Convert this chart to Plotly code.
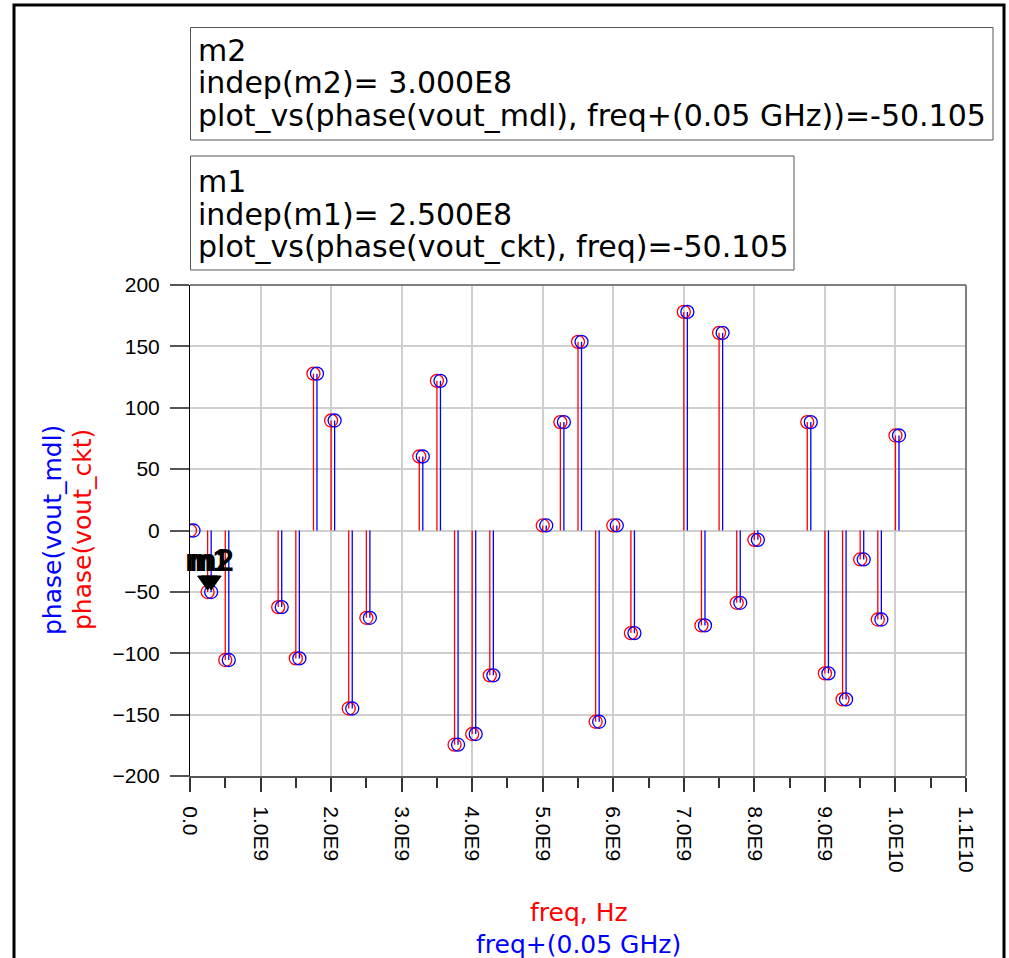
import plotly.graph_objects as go

# Simulated tones (GHz) and their phase (degrees) for circuit and model
freq_ghz = [0.0, 0.25, 0.5, 1.25, 1.5, 1.75, 2.0, 2.25, 2.5, 3.25, 3.5, 3.75, 4.0, 4.25,
            5.0, 5.25, 5.5, 5.75, 6.0, 6.25, 7.0, 7.25, 7.5, 7.75, 8.0,
            8.75, 9.0, 9.25, 9.5, 9.75, 10.0]
phase_ckt = [0.0, -50.105, -105.5, -62.4, -104.2, 127.8, 89.6, -145.0, -71.1, 60.3, 121.9,
             -174.5, -165.8, -118.0, 4.1, 88.3, 153.7, -155.8, 4.1, -83.6, 178.1, -77.3,
             161.0, -58.9, -7.6, 88.3, -116.4, -137.6, -23.6, -72.5, 77.4]
phase_mdl = [0.0, -50.105, -105.5, -62.4, -104.2, 127.8, 89.6, -145.0, -71.1, 60.3, 121.9,
             -174.5, -165.8, -118.0, 4.1, 88.3, 153.7, -155.8, 4.1, -83.6, 178.1, -77.3,
             161.0, -58.9, -7.6, 88.3, -116.4, -137.6, -23.6, -72.5, 77.4]
offset_ghz = 0.05

x_tickvals_ghz = [0, 1, 2, 3, 4, 5, 6, 7, 8, 9, 10, 11]
x_ticktext = ["0.0", "1.0E9", "2.0E9", "3.0E9", "4.0E9", "5.0E9", "6.0E9", "7.0E9",
              "8.0E9", "9.0E9", "1.0E10", "1.1E10"]
y_tickvals = [-200, -150, -100, -50, 0, 50, 100, 150, 200]

# marker readouts
m1_freq_ghz, m1_val = 0.25, -50.105
m2_freq_ghz, m2_val = 0.30, -50.105
m2_lines = ["m2", "indep(m2)= 3.000E8", "plot_vs(phase(vout_mdl), freq+(0.05 GHz))=-50.105"]
m1_lines = ["m1", "indep(m1)= 2.500E8", "plot_vs(phase(vout_ckt), freq)=-50.105"]

RED = "#ff0000"
BLUE = "#0000ff"

f_ckt = [f * 1e9 for f in freq_ghz]
f_mdl = [(f + offset_ghz) * 1e9 for f in freq_ghz]


def stems(xs, ys):
    sx, sy = [], []
    for x, y in zip(xs, ys):
        sx += [x, x, None]
        sy += [0, y, None]
    return sx, sy


fig = go.Figure()
for xs, ys, col in [(f_ckt, phase_ckt, RED), (f_mdl, phase_mdl, BLUE)]:
    sx, sy = stems(xs, ys)
    fig.add_trace(go.Scatter(x=sx, y=sy, mode="lines", line=dict(color=col, width=1.3),
                             hoverinfo="skip", showlegend=False))
for xs, ys, col in [(f_ckt, phase_ckt, RED), (f_mdl, phase_mdl, BLUE)]:
    fig.add_trace(go.Scatter(x=xs, y=ys, mode="markers",
                             marker=dict(symbol="circle-open", size=13, color=col,
                                         line=dict(width=1.3, color=col)),
                             showlegend=False))

# plot area in page pixels
L, R, T, B = 190, 966, 285, 776
W, H = 1009, 958


def px(xp):
    return (xp - L) / (R - L)


def py(yp):
    return (B - yp) / (B - T)


shapes = []
annotations = []

# outer frame of the display
shapes.append(dict(type="rect", xref="paper", yref="paper", x0=px(14), x1=px(1004),
                   y0=py(970), y1=py(5), line=dict(color="black", width=3), layer="below"))
# top and right edges of the plot frame
shapes.append(dict(type="line", xref="paper", yref="paper", x0=0, x1=1, y0=1, y1=1,
                   line=dict(color="#7f7f7f", width=2)))
shapes.append(dict(type="line", xref="paper", yref="paper", x0=1, x1=1, y0=0, y1=1,
                   line=dict(color="#7f7f7f", width=2)))

# marker readout boxes
MFONT = dict(family="DejaVu Sans", size=30, color="black")
for (x0, x1, y0, y1), lines, base0 in [((190.5, 993, 27.5, 140), m2_lines, 61),
                                       ((190.5, 794, 156, 270), m1_lines, 192)]:
    shapes.append(dict(type="rect", xref="paper", yref="paper", x0=px(x0), x1=px(x1),
                       y0=py(y1), y1=py(y0), line=dict(color="#555555", width=1),
                       fillcolor="white"))
    for i, t in enumerate(lines):
        annotations.append(dict(xref="paper", yref="paper", x=px(196), y=py(base0 + 32.5 * i - 10.5),
                                xanchor="left", yanchor="middle", text=t, showarrow=False,
                                font=MFONT))

# marker labels and pointers
for fg, val, name in [(m1_freq_ghz, m1_val, "m1"), (m2_freq_ghz, m2_val, "m2")]:
    annotations.append(dict(x=fg * 1e9, y=val, xref="x", yref="y", text="<b>%s</b>" % name,
                            showarrow=False, xanchor="center", yanchor="middle", yshift=32,
                            font=dict(family="Liberation Sans", size=31, color="black")))
    shapes.append(dict(type="path", xref="x", yref="y", xsizemode="pixel", ysizemode="pixel",
                       xanchor=fg * 1e9, yanchor=val,
                       path="M -10,16 L 10,16 L 0,2 Z", fillcolor="black",
                       line=dict(color="black", width=1)))

# axis titles
TFONT = 25
annotations.append(dict(xref="paper", yref="paper", x=px(52), y=py(530), text="phase(vout_mdl)",
                        textangle=-90, showarrow=False, xanchor="center", yanchor="middle",
                        font=dict(family="DejaVu Sans", size=TFONT, color=BLUE)))
annotations.append(dict(xref="paper", yref="paper", x=px(82), y=py(530), text="phase(vout_ckt)",
                        textangle=-90, showarrow=False, xanchor="center", yanchor="middle",
                        font=dict(family="DejaVu Sans", size=TFONT, color=RED)))
annotations.append(dict(xref="paper", yref="paper", x=px(579), y=py(912), text="freq, Hz",
                        showarrow=False, xanchor="center", yanchor="middle",
                        font=dict(family="DejaVu Sans", size=TFONT, color=RED)))
annotations.append(dict(xref="paper", yref="paper", x=px(578), y=py(944), text="freq+(0.05 GHz)",
                        showarrow=False, xanchor="center", yanchor="middle",
                        font=dict(family="DejaVu Sans", size=TFONT, color=BLUE)))

TICKFONT = dict(family="Liberation Sans", size=21, color="black")
fig.update_layout(
    width=W, height=H,
    margin=dict(l=L, r=W - R, t=T, b=H - B, pad=0),
    paper_bgcolor="white", plot_bgcolor="white",
    shapes=shapes, annotations=annotations,
    xaxis=dict(range=[0, 11e9], tickmode="array",
               tickvals=[v * 1e9 for v in x_tickvals_ghz], ticktext=x_ticktext,
               tickangle=90, tickfont=TICKFONT, ticks="outside", ticklen=14,
               tickcolor="#333333", tickwidth=1.5,
               showgrid=True, gridcolor="#cfcfcf", gridwidth=1.5,
               showline=True, linecolor="#555555", linewidth=2, zeroline=False,
               ticklabelstandoff=10,
               minor=dict(tickmode="array",
                          tickvals=[(v + 0.5) * 1e9 for v in x_tickvals_ghz[:-1]],
                          ticks="outside", ticklen=10, tickcolor="#333333", tickwidth=1.5,
                          showgrid=False)),
    yaxis=dict(range=[-200, 200], tickmode="array", tickvals=y_tickvals,
               tickfont=TICKFONT, ticks="outside", ticklen=19, tickcolor="#555555",
               tickwidth=2, showgrid=True, gridcolor="#cfcfcf", gridwidth=1.5,
               showline=True, linecolor="black", linewidth=1, zeroline=False,
               ticklabelstandoff=6),
)

fig.write_html("out.html")
